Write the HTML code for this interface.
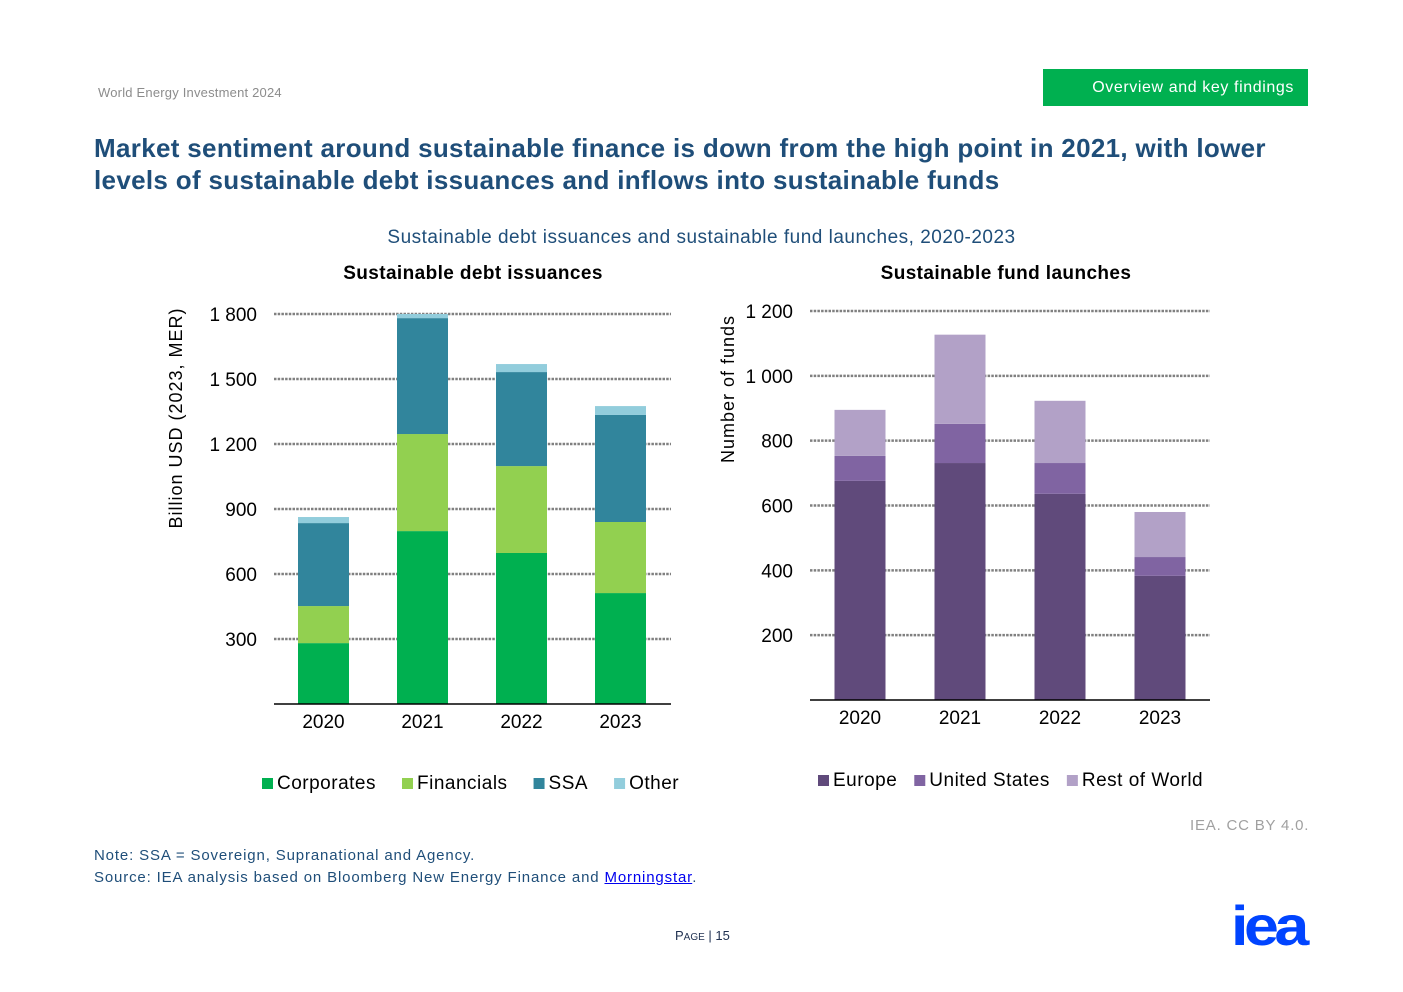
<!DOCTYPE html>
<html><head><meta charset="utf-8"><style>
body{margin:0;width:1403px;height:992px;background:#fff;position:relative;font-family:"Liberation Sans",sans-serif;overflow:hidden}
.a{position:absolute;white-space:nowrap}
</style></head><body>
<div class="a" style="left:98px;top:85px;font-size:13px;color:#8c8c8c;letter-spacing:0.2px">World Energy Investment 2024</div>
<div class="a" style="left:1043px;top:69px;width:265px;height:37px;background:#00b050;color:#fff;font-size:16px;line-height:37px;text-align:right;box-sizing:border-box;padding-right:14px;letter-spacing:0.6px">Overview and key findings</div>
<div class="a" style="left:94px;top:132px;font-size:26px;font-weight:bold;color:#1f4e79;line-height:32px;letter-spacing:0.32px">Market sentiment around sustainable finance is down from the high point in 2021, with lower<br>levels of sustainable debt issuances and inflows into sustainable funds</div>
<div class="a" style="left:0;width:1403px;text-align:center;top:227px;font-size:19px;color:#1f4e79;letter-spacing:0.5px">Sustainable debt issuances and sustainable fund launches, 2020-2023</div>
<svg class="a" style="left:0;top:0" width="1403" height="992" font-family="Liberation Sans, sans-serif">
<g id="left"></g>
<g id="right"></g>
</svg>
<div class="a" style="left:1190px;top:817px;font-size:15px;color:#a0a0a0;letter-spacing:0.8px">IEA. CC BY 4.0.</div>
<div class="a" style="left:94px;top:845px;font-size:15px;color:#1f4e79;line-height:22px;letter-spacing:0.85px">Note: SSA = Sovereign, Supranational and Agency.<br>Source: IEA analysis based on Bloomberg New Energy Finance and <a style="color:#0000ee;text-decoration:underline">Morningstar</a>.</div>
<div class="a" style="left:675px;top:928px;font-size:13px;color:#1f3050">P<span style="font-size:10px">AGE</span> | 15</div>
<div class="a" style="left:1231px;top:893px;font-size:56px;font-weight:900;color:#0044ff;letter-spacing:-4px;transform:scaleX(1.12);transform-origin:left">iea</div>
<script>
const debtYears=["2020","2021","2022","2023"];
const corporates=[281,798,697,512];
const financials=[171,448,401,328];
const ssa=[383,535,434,494];
const other=[28,19,37,41];
const debtTicks=[300,600,900,1200,1500,1800];
const debtTickLabels=["300","600","900","1 200","1 500","1 800"];
const fundYears=["2020","2021","2022","2023"];
const europe=[676,731,636,383];
const unitedStates=[77,121,95,58];
const restOfWorld=[142,275,192,139];
const fundTicks=[200,400,600,800,1000,1200];
const fundTickLabels=["200","400","600","800","1 000","1 200"];
const NS="http://www.w3.org/2000/svg";
function el(p,t,a,txt){const e=document.createElementNS(NS,t);for(const k in a)e.setAttribute(k,a[k]);if(txt!==undefined)e.textContent=txt;p.appendChild(e);return e;}
function chart(g,o){
  const y=v=>o.base-v*(o.base-o.top)/o.max;
  const x=i=>o.x0+o.step*(i+0.5);
  o.ticks.forEach((t,i)=>{
    const l=el(g,'line',{x1:o.x0,x2:o.x1,y1:y(t),y2:y(t),stroke:'#808080','stroke-width':2.5,'stroke-dasharray':'2.5 1.2'});
    
    
    const tx=el(g,'text',{x:o.x0-17,y:y(t)+7,'text-anchor':'end','font-size':19,fill:'#000'},o.tickLabels[i]);
    
    
  });
  o.cats.forEach((c,i)=>{
    let acc=0;
    o.series.forEach((s,j)=>{
      const v=s.vals[i];
      const r=el(g,'rect',{x:x(i)-o.bw/2,width:o.bw,y:y(acc+v),height:y(acc)-y(acc+v),fill:s.color});
      
      
      acc+=v;
    });
    const t=el(g,'text',{x:x(i),y:o.base+24,'text-anchor':'middle','font-size':19},c);
    
    
  });
  const ax=el(g,'line',{x1:o.x0,x2:o.x1,y1:o.base,y2:o.base,stroke:'#000','stroke-width':1.5});
  
  
  const tt=el(g,'text',{x:o.titleX,y:o.titleY,'text-anchor':'middle','font-size':19,'font-weight':'bold','letter-spacing':0.4},o.title);
  
  
  const yt=el(g,'text',{transform:`translate(${o.ytX},${o.ytY}) rotate(-90)`,'text-anchor':'middle','font-size':18,'letter-spacing':o.ytLs},o.yTitle);
  
  
  let lx=o.legX;
  o.series.forEach(s=>{
    const lg=el(g,'g',{});
    
    
    el(lg,'rect',{x:lx,y:o.legY-11,width:11,height:11,fill:s.color});
    const t=el(lg,'text',{x:lx+15,y:o.legY,'font-size':19,'letter-spacing':0.5},s.label);
    lx+=15+t.getComputedTextLength()+s.gap;
  });
}
chart(document.getElementById('left'),{base:704,top:314,max:1800,x0:274,x1:671,step:99,bw:51,ticks:debtTicks,tickLabels:debtTickLabels,cats:debtYears,
 series:[{name:'corporates',label:'Corporates',vals:corporates,color:'#00b050',gap:26},{name:'financials',label:'Financials',vals:financials,color:'#92d050',gap:26},{name:'ssa',label:'SSA',vals:ssa,color:'#31859c',gap:26},{name:'other',label:'Other',vals:other,color:'#92cddc',gap:20}],
 title:'Sustainable debt issuances',titleX:473,titleY:279,yTitle:'Billion USD (2023, MER)',ytX:182,ytY:418,ytLs:1,legX:262,legY:789});
chart(document.getElementById('right'),{base:700,top:311,max:1200,x0:810,x1:1210,step:100,bw:51,ticks:fundTicks,tickLabels:fundTickLabels,cats:fundYears,
 series:[{name:'europe',label:'Europe',vals:europe,color:'#604a7b',gap:17},{name:'united-states',label:'United States',vals:unitedStates,color:'#8064a2',gap:17},{name:'rest-of-world',label:'Rest of World',vals:restOfWorld,color:'#b2a1c7',gap:17}],
 title:'Sustainable fund launches',titleX:1006,titleY:279,yTitle:'Number of funds',ytX:734,ytY:389,ytLs:1,legX:818,legY:786});
</script>
</body></html>
